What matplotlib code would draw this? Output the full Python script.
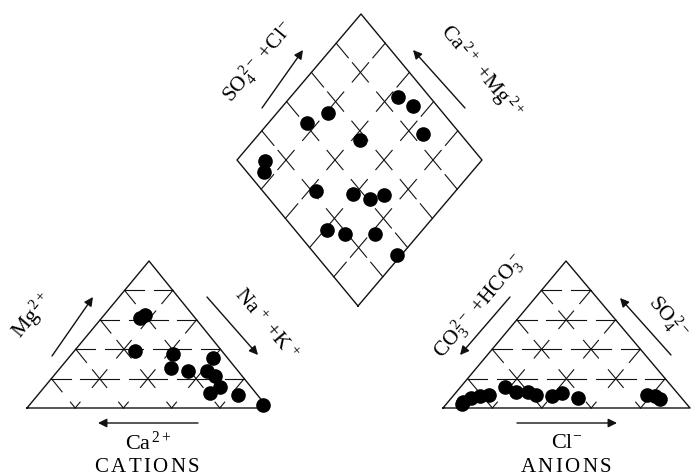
import matplotlib.pyplot as plt
import numpy as np

plt.rcParams['font.family'] = 'Liberation Serif'
plt.rcParams['mathtext.fontset'] = 'custom'
plt.rcParams['mathtext.rm'] = 'Liberation Serif'
plt.rcParams['mathtext.it'] = 'Liberation Serif:italic'

# cations, % of total meq (Ca = 100 - Mg - NaK)
cat_mg = [61, 63, 39, 37, 34, 27, 25, 25, 22, 14, 10, 9, 2]
cat_nak = [16, 17, 25, 42, 60, 46, 54, 62, 67, 73, 71, 83, 97]

# anions, % of total meq (CO3+HCO3 = 100 - SO4 - Cl)
an_so4 = [3, 4, 7, 8, 9, 14, 11, 11, 9, 8, 10, 7, 9, 8, 6]
an_cl = [6, 6, 8, 11, 14, 18, 24, 29, 33, 40, 43, 51, 78, 82, 85]

# diamond field
dia_so4cl = [87, 90, 85, 53, 41, 57, 11, 7, 22, 36, 41, 48, 13, 19, 31, 33]
dia_camg = [56, 47, 33, 79, 84, 57, 88, 85, 57, 41, 32, 28, 39, 30, 18, 2]

# layout of the three fields (pixel units)
CAT_L, CAT_A, CAT_R = np.array([27, 408]), np.array([149, 261]), np.array([268, 408])
AN_L, AN_A, AN_R = np.array([443, 408]), np.array([566, 261]), np.array([690, 408])
DIA_B, DIA_L, DIA_R = np.array([358, 306]), np.array([237, 160]), np.array([482, 160])

fig = plt.figure(figsize=(6.97, 4.76), dpi=100)
ax = fig.add_axes([0, 0, 1, 1])
ax.set_xlim(0, 697)
ax.set_ylim(476, 0)
ax.axis('off')

LC = '#111111'


def to_xy(o, u, v, a, b):
    a = np.asarray(a) / 100.0
    b = np.asarray(b) / 100.0
    x = o[0] + a * u[0] + b * v[0]
    y = o[1] + a * u[1] + b * v[1]
    return x, y


def dashed(p, q, n, h=0.35, h0=None, h1=None):
    # short strokes centred on each grid node along p->q
    p, q = np.asarray(p, float), np.asarray(q, float)
    for k in range(n + 1):
        hh = h
        if k == 0 and h0 is not None:
            hh = h0
        if k == n and h1 is not None:
            hh = h1
        a = max(0.0, (k - hh) / n)
        b = min(1.0, (k + hh) / n)
        s = p + a * (q - p)
        e = p + b * (q - p)
        ax.plot([s[0], e[0]], [s[1], e[1]], color=LC, lw=0.8)


def triangle(L, A, R):
    ax.plot([L[0], R[0], A[0], L[0]], [L[1], R[1], A[1], L[1]], color=LC, lw=1.0)
    u, v = A - L, R - L
    for j in range(1, 5):
        m = j / 5
        dashed(L + m * u, L + m * u + (1 - m) * v, 5 - j, h=0.4)
    for i in range(1, 5):
        f = i / 5
        # parallel to left edge, base to right edge
        dashed(L + f * v, L + f * v + (1 - f) * u, 5 - i, h=0.3, h0=0.2, h1=0.45)
        # parallel to right edge, base to left edge
        dashed(L + (1 - f) * v, L + (1 - f) * u, 5 - i, h=0.3, h0=0.2, h1=0.45)


def diamond(B, Lv, R):
    T = Lv + R - B
    ax.plot([B[0], R[0], T[0], Lv[0], B[0]], [B[1], R[1], T[1], Lv[1], B[1]],
            color=LC, lw=1.0)
    u, v = R - B, Lv - B
    for i in range(1, 5):
        f = i / 5
        dashed(B + f * u, B + f * u + v, 5, h=0.33, h0=0.5, h1=0.5)
        dashed(B + f * v, B + f * v + u, 5, h=0.33, h0=0.5, h1=0.5)


triangle(CAT_L, CAT_A, CAT_R)
triangle(AN_L, AN_A, AN_R)
diamond(DIA_B, DIA_L, DIA_R)

dot = dict(marker='o', ls='none', color='black', markersize=9.5)
x, y = to_xy(CAT_L, CAT_A - CAT_L, CAT_R - CAT_L, cat_mg, cat_nak)
ax.plot(x, y, **dot)
x, y = to_xy(AN_L, AN_A - AN_L, AN_R - AN_L, an_so4, an_cl)
ax.plot(x, y, **dot)
x, y = to_xy(DIA_B, DIA_R - DIA_B, DIA_L - DIA_B, dia_so4cl, dia_camg)
ax.plot(x, y, **dot)


def arrow(tail, head):
    ax.annotate('', xy=head, xytext=tail,
                arrowprops=dict(arrowstyle='-|>', color=LC, lw=1.0,
                                mutation_scale=13, shrinkA=0, shrinkB=0))


fs = 15.5
# cation labels
arrow((52, 356), (93, 297))
ax.text(32, 316, r'Mg$^{\,2+}$', rotation=50, fontsize=fs, ha='center', va='center')
arrow((207, 297), (258, 355))
ax.text(265, 325, r'Na$^{\,+}$ +K$^{\,+}$', rotation=-50, fontsize=fs,
        ha='center', va='center')
arrow((198, 423), (98, 423))
ax.text(148, 443, r'Ca$^{\,2+}$', fontsize=16, ha='center', va='center')
ax.text(147, 467, r'$\mathrm{C\,A\,T\,I\,O\,N\,S}$', fontsize=15, ha='center', va='center')

# anion labels
arrow((510, 297), (460, 355))
ax.text(479, 306, r'CO$_3^{\,2-}$ +HCO$_3^{\,-}$', rotation=50, fontsize=fs,
        ha='center', va='center')
arrow((671, 355), (620, 298))
ax.text(668, 317, r'SO$_4^{\,2-}$', rotation=-50, fontsize=fs,
        ha='center', va='center')
arrow((517, 423), (617, 423))
ax.text(567, 444, r'Cl$^{-}$', fontsize=16, ha='center', va='center')
ax.text(566, 467, r'$\mathrm{A\,N\,I\,O\,N\,S}$', fontsize=15, ha='center', va='center')

# diamond labels
arrow((262, 108), (303, 50))
ax.text(258, 62, r'SO$_4^{\,2-}$ +Cl$^{-}$', rotation=50, fontsize=fs,
        ha='center', va='center')
arrow((465, 108), (413, 50))
ax.text(481, 72, r'Ca$^{\,2+}$ +Mg$^{\,2+}$', rotation=-50, fontsize=fs,
        ha='center', va='center')

fig.savefig('out.png', dpi=100)
